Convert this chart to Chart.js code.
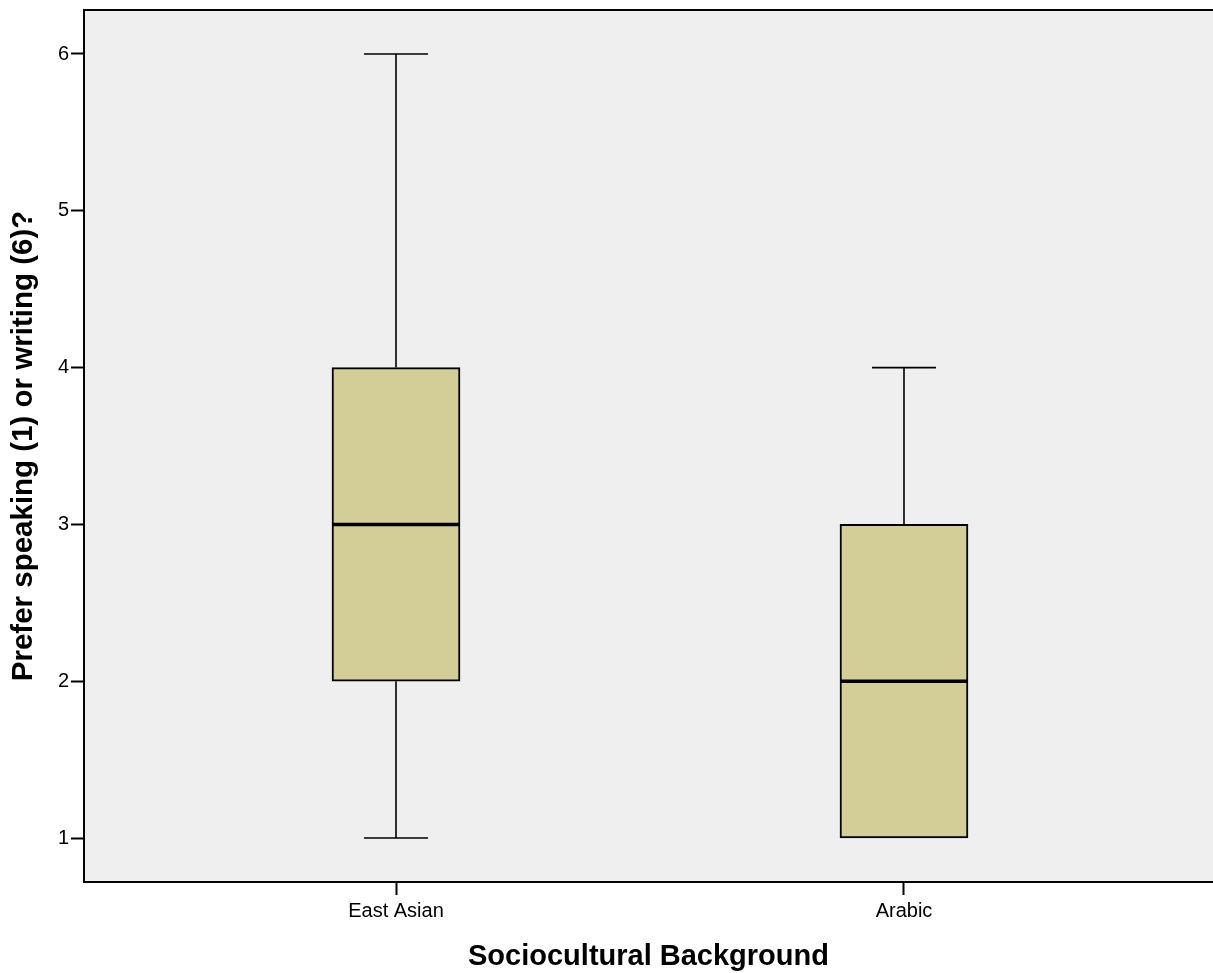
<!DOCTYPE html>
<html>
<head>
<meta charset="utf-8">
<style>
  html, body { margin: 0; padding: 0; background: #ffffff; }
  #wrap { width: 1213px; height: 973px; }
</style>
<script src="https://cdn.jsdelivr.net/npm/chart.js@4.4.1/dist/chart.umd.min.js"></script>
</head>
<body>
<div id="wrap"><canvas id="c" width="1213" height="973"></canvas></div>
<script>
// ---- Data ----
const categories = ["East Asian", "Arabic"];
const whiskerMin = [1, 1];
const q1Values   = [2, 1];
const medians    = [3, 2];
const q3Values   = [4, 3];
const whiskerMax = [6, 4];
const yTickValues = [1, 2, 3, 4, 5, 6];

const xTitle = "Sociocultural Background";
const yTitle = "Prefer speaking (1) or writing (6)?";

const FONT = "'Liberation Sans', Arial, Helvetica, sans-serif";

const boxPlugin = {
  id: 'boxPlugin',
  beforeDraw(chart) {
    const {ctx, chartArea: a} = chart;
    ctx.save();
    ctx.fillStyle = '#efefef';
    ctx.fillRect(a.left, a.top, a.right - a.left, a.bottom - a.top);
    ctx.restore();
  },
  afterDatasetsDraw(chart) {
    const {ctx, chartArea: a} = chart;
    const xs = chart.scales.x, ys = chart.scales.y;
    const meta = chart.getDatasetMeta(0);
    ctx.save();
    ctx.strokeStyle = '#000';
    categories.forEach((c, i) => {
      const bar = meta.data[i];
      const half = bar.width / 2;
      const cx = xs.getPixelForValue(i + 1);
      const capHalf = half / 2;
      ctx.lineWidth = 1.6;
      // upper whisker
      if (whiskerMax[i] > q3Values[i]) {
        const yA = ys.getPixelForValue(q3Values[i]);
        const yB = ys.getPixelForValue(whiskerMax[i]);
        ctx.beginPath(); ctx.moveTo(cx, yA); ctx.lineTo(cx, yB); ctx.stroke();
        ctx.beginPath(); ctx.moveTo(cx - capHalf, yB); ctx.lineTo(cx + capHalf, yB); ctx.stroke();
      }
      // lower whisker
      if (whiskerMin[i] < q1Values[i]) {
        const yA = ys.getPixelForValue(q1Values[i]);
        const yB = ys.getPixelForValue(whiskerMin[i]);
        ctx.beginPath(); ctx.moveTo(cx, yA); ctx.lineTo(cx, yB); ctx.stroke();
        ctx.beginPath(); ctx.moveTo(cx - capHalf, yB); ctx.lineTo(cx + capHalf, yB); ctx.stroke();
      }
      // median
      ctx.lineWidth = 3.5;
      const ym = ys.getPixelForValue(medians[i]);
      ctx.beginPath(); ctx.moveTo(cx - half + 1, ym); ctx.lineTo(cx + half - 1, ym); ctx.stroke();
    });
    // top border
    ctx.lineWidth = 2;
    ctx.beginPath(); ctx.moveTo(a.left - 1, a.top); ctx.lineTo(a.right, a.top); ctx.stroke();
    ctx.restore();
  }
};

new Chart(document.getElementById('c'), {
  type: 'bar',
  data: {
    datasets: [{
      data: categories.map((c, i) => ({ x: i + 1, y: [q1Values[i], q3Values[i]] })),
      backgroundColor: '#d3ce98',
      borderColor: '#000000',
      borderWidth: 2,
      borderSkipped: false,
      barThickness: 128
    }]
  },
  options: {
    responsive: false,
    animation: false,
    events: [],
    layout: { padding: { top: 10, right: 0, left: 0, bottom: 0 } },
    plugins: { legend: { display: false }, tooltip: { enabled: false } },
    scales: {
      x: {
        type: 'linear',
        offset: false,
        min: 0.3858,
        max: 2.6083,
        afterBuildTicks(s) { s.ticks = categories.map((c, i) => ({ value: i + 1 })); },
        afterFit(s) { s.height = 91; s.paddingLeft = 0; s.paddingRight = 0; },
        grid: { offset: false, drawOnChartArea: false, drawTicks: true, tickLength: 13, tickWidth: 2, tickColor: '#000' },
        border: { display: true, color: '#000', width: 2 },
        ticks: {
          color: '#000',
          padding: 4,
          maxRotation: 0,
          autoSkip: false,
          font: { family: FONT, size: 20 },
          callback: (v) => categories[Math.round(v) - 1] || ''
        },
        title: {
          display: true,
          text: xTitle,
          color: '#000',
          font: { family: FONT, size: 29, weight: 'bold', lineHeight: 1.1 },
          padding: { top: 0, bottom: 0 }
        }
      },
      y: {
        type: 'linear',
        min: 0.7194,
        max: 6.2806,
        afterBuildTicks(s) { s.ticks = yTickValues.map(v => ({ value: v })); },
        afterFit(s) { s.width = 84; s.paddingTop = 0; s.paddingBottom = 0; },
        grid: { drawOnChartArea: false, drawTicks: true, tickLength: 13, tickWidth: 2, tickColor: '#000' },
        border: { display: true, color: '#000', width: 2 },
        ticks: {
          color: '#000',
          padding: 2,
          font: { family: FONT, size: 20 },
          callback: (v) => String(v)
        },
        title: {
          display: true,
          text: yTitle,
          color: '#000',
          font: { family: FONT, size: 29.5, weight: 'bold', lineHeight: 1.2 },
          padding: { top: 6, bottom: 0 }
        }
      }
    }
  },
  plugins: [boxPlugin]
});
</script>
</body>
</html>
